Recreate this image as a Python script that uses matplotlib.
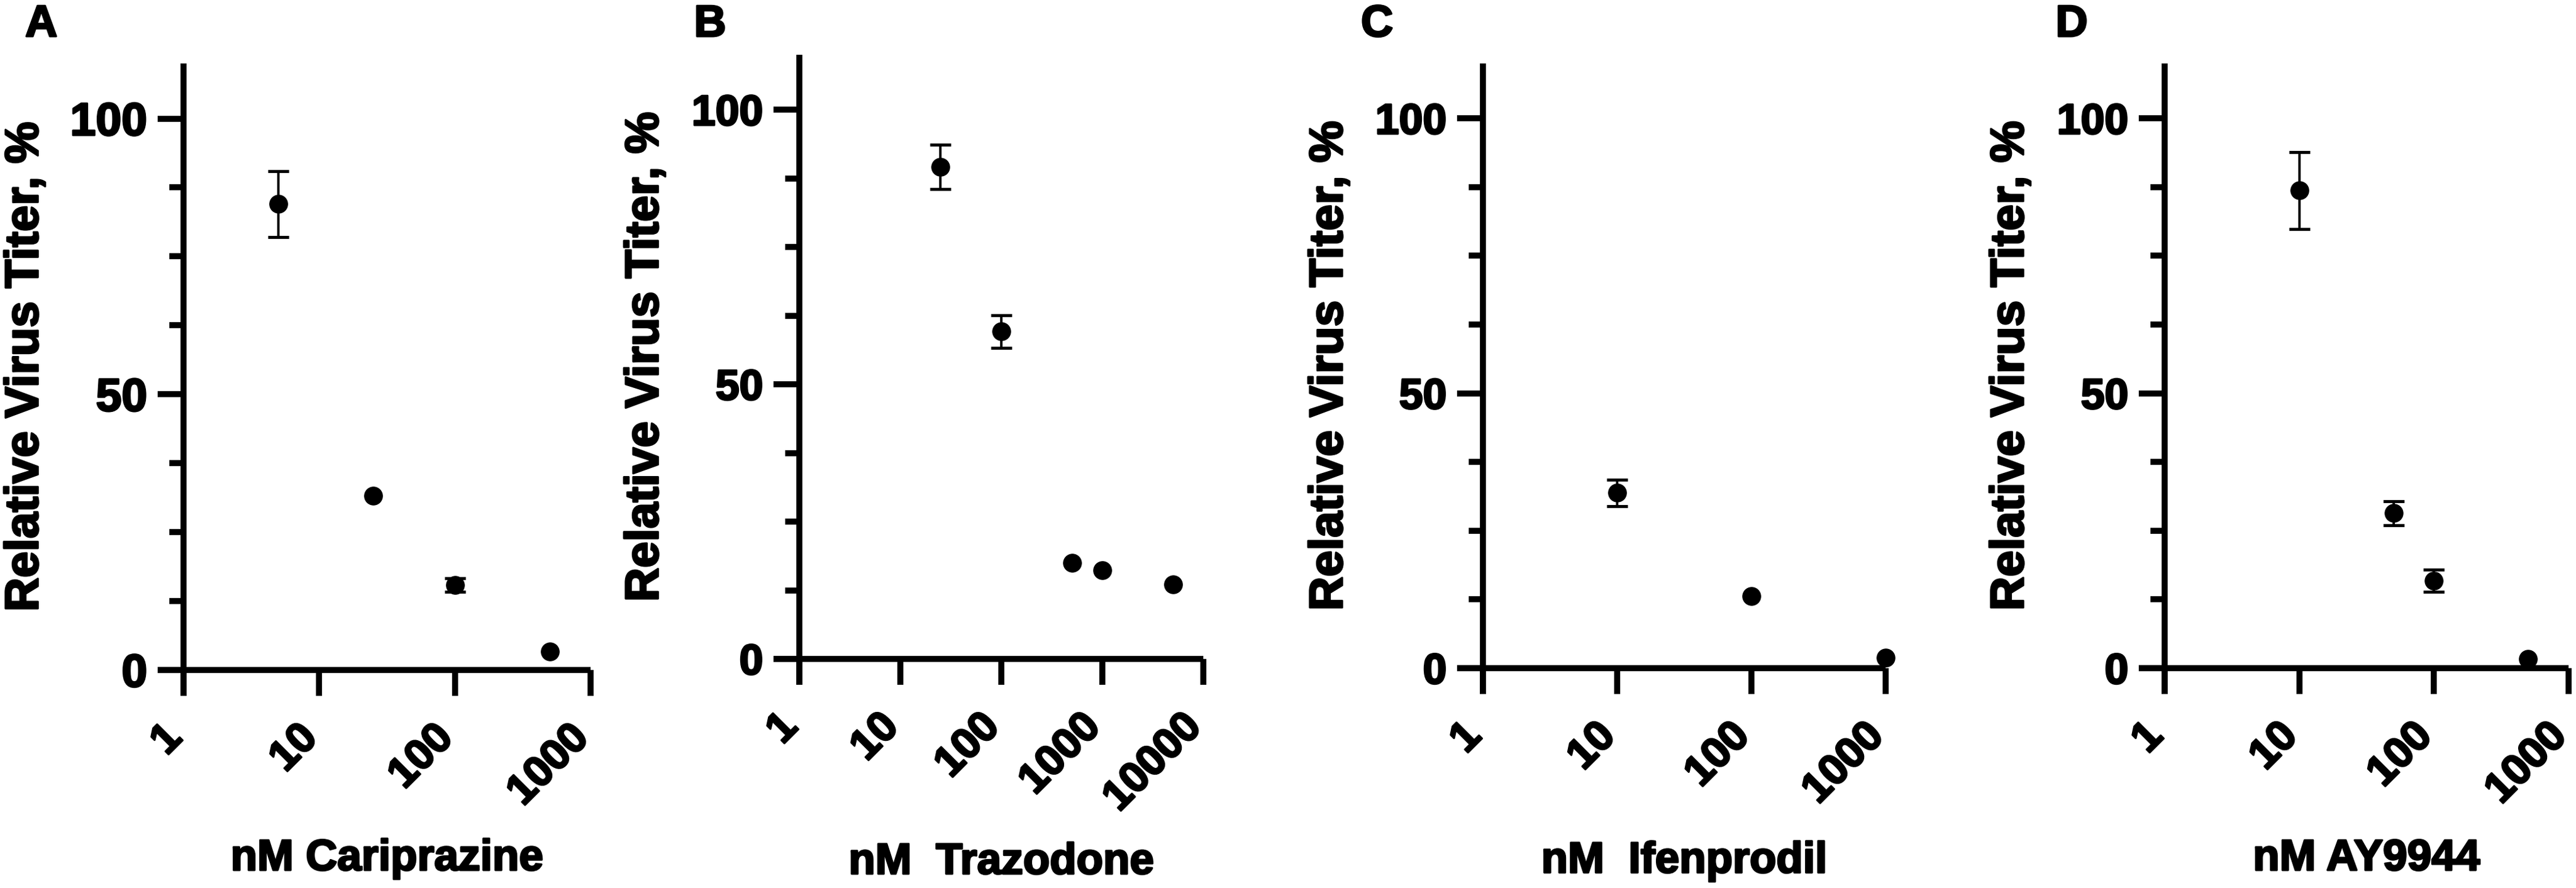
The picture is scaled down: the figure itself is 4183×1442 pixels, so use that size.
# Relative virus titer vs drug concentration, four panels (A-D)

import numpy as np
import matplotlib.pyplot as plt
import matplotlib.patheffects as pe
from matplotlib.ticker import FixedLocator, NullLocator, MultipleLocator

plt.rcParams['font.family'] = ['Liberation Sans', 'DejaVu Sans']

# ---- data ----
cariprazine_nM = [5, 25, 100, 500]
cariprazine_titer = [84.5, 31.6, 15.4, 3.4]
cariprazine_err = [6.0, 0.0, 1.2, 0.0]

trazodone_nM = [25, 100, 500, 1000, 5000]
trazodone_titer = [89.6, 59.6, 17.5, 16.1, 13.6]
trazodone_err = [4.0, 3.0, 0.0, 0.0, 0.0]

ifenprodil_nM = [10, 100, 1000]
ifenprodil_titer = [31.9, 13.1, 1.9]
ifenprodil_err = [2.4, 0.0, 0.0]

ay9944_nM = [10, 50, 100, 500]
ay9944_titer = [86.9, 28.2, 15.9, 1.7]
ay9944_err = [7.0, 2.2, 2.0, 0.0]

letters = ['A', 'B', 'C', 'D']
xlabels = ['nM Cariprazine', 'nM  Trazodone', 'nM  Ifenprodil', 'nM AY9944']
xticks_list = [[1, 10, 100, 1000], [1, 10, 100, 1000, 10000],
               [1, 10, 100, 1000], [1, 10, 100, 1000]]
ylabel = 'Relative Virus Titer, %'

series = [(cariprazine_nM, cariprazine_titer, cariprazine_err),
          (trazodone_nM, trazodone_titer, trazodone_err),
          (ifenprodil_nM, ifenprodil_titer, ifenprodil_err),
          (ay9944_nM, ay9944_titer, ay9944_err)]

# ---- layout in pixels (from top-left) ----
W, H = 4183, 1442
# y-axis x, x-axis right end, y of zero line, top of y-axis, ylabel center x, letter x, xlabel top
layout = [(298, 959, 1088, 103, 42, 41, 1362),
          (1298, 1954, 1070, 89, 1049, 1127, 1368),
          (2408, 3062, 1085, 103, 2160, 2210, 1366),
          (3515, 4171, 1085, 103, 3266, 3338, 1362)]
ytick_size = [54, 50, 50, 50]
YTOP = 110
OVER = 42   # px, tick length and axis overhang
LW = 7
px2pt = 72 / 100
heavy = [pe.withStroke(linewidth=2.2, foreground='black')]

fig = plt.figure(figsize=(W / 100, H / 100), dpi=100)

for i in range(4):
	xa, xr, y0, yt, ylx, lx, xly = layout[i]
	x, y, e = [np.array(v, dtype=float) for v in series[i]]
	ticks = xticks_list[i]
	ndec = np.log10(ticks[-1])
	px_dec = (xr - xa) / ndec
	px_unit = (y0 - yt) / YTOP

	left = xa - OVER
	bottom = y0 + OVER
	ax = fig.add_axes([left / W, 1 - bottom / H, (xr - left) / W, (bottom - yt) / H])
	ax.set_xscale('log')
	ax.set_xlim(10 ** (-OVER / px_dec), ticks[-1])
	ax.set_ylim(-OVER / px_unit, YTOP)

	for s in ['top', 'right']:
		ax.spines[s].set_visible(False)
	ax.spines['left'].set_position(('data', 1))
	ax.spines['bottom'].set_position(('data', 0))
	for s in ['left', 'bottom']:
		ax.spines[s].set_linewidth(LW)
		ax.spines[s].set_capstyle('butt')

	ax.xaxis.set_major_locator(FixedLocator(ticks))
	ax.xaxis.set_minor_locator(NullLocator())
	ax.set_xticklabels([str(t) for t in ticks], rotation=45, ha='right',
					   va='baseline', rotation_mode='anchor')
	ax.yaxis.set_major_locator(FixedLocator([0, 50, 100]))
	ax.yaxis.set_minor_locator(MultipleLocator(12.5))
	ax.tick_params(axis='y', which='major', direction='out', length=OVER * px2pt,
				   width=LW, pad=12, labelsize=ytick_size[i])
	ax.tick_params(axis='y', which='minor', direction='out', length=23 * px2pt, width=LW)
	ax.tick_params(axis='x', which='major', direction='out', length=OVER * px2pt,
				   width=LW, pad=51, labelsize=50)
	for lab in ax.get_xticklabels() + ax.get_yticklabels():
		lab.set_fontweight('bold')
		lab.set_path_effects(heavy)

	m = e > 0
	ax.errorbar(x[m], y[m], yerr=e[m], fmt='none', ecolor='black', elinewidth=2.8,
				capsize=12, capthick=3.5, clip_on=False, zorder=3)
	ax.plot(x, y, ls='none', marker='o', ms=21, color='black', clip_on=False, zorder=4)

	ax.set_xlabel(xlabels[i], fontsize=51, fontweight='bold', va='top', path_effects=heavy)
	ax.xaxis.set_label_coords(((xa + xr) / 2) / W, 1 - xly / H, transform=fig.transFigure)
	ax.set_ylabel(ylabel, fontsize=55, fontweight='bold', va='center', path_effects=heavy)
	ax.yaxis.set_label_coords(ylx / W, 1 - ((y0 + yt) / 2) / H, transform=fig.transFigure)

	fig.text(lx / W, 1 - 6 / H, letters[i], fontsize=52, fontweight='bold',
			 ha='left', va='top', path_effects=heavy)

plt.savefig('out.png', dpi=100)
